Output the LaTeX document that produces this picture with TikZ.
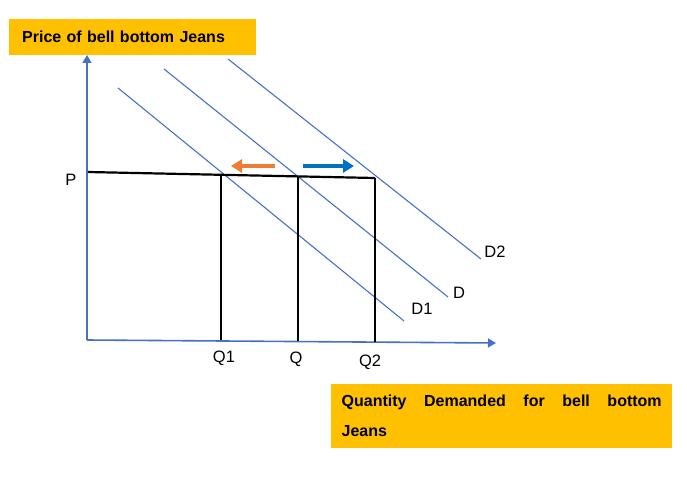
\documentclass[tikz,border=0pt]{standalone}
\usepackage{fontspec}
\setmainfont{Liberation Sans}
\usepackage{xcolor}
\usetikzlibrary{
  arrows.meta,
  positioning
}
\definecolor{boxFill}{HTML}{FFC000}
\definecolor{axisStroke}{HTML}{4472C4}
\definecolor{leftShift}{HTML}{ED7D31}
\definecolor{rightShift}{HTML}{0070C0}
\tikzset{
  label box/.style={
    rectangle, fill=boxFill,
    inner ysep=0pt, align=left,
    font=\bfseries\fontsize{16}{30}\selectfont
  },
  axis line/.style={
    axisStroke, line width=1.6pt,
    -{Triangle[length=8pt, width=9pt]}},
  demand line/.style={axisStroke, line width=1.1pt},
  guide line/.style={black, line width=2.2pt},
  shift arrow/.style={
    line width=4.5pt,
    -{Triangle[length=11pt, width=13pt]}},
  axis label/.style={inner sep=0pt,
    font=\fontsize{16.5}{16.5}\selectfont},
}

\begin{document}
\begin{tikzpicture}[x=1pt, y=-1pt]
    \useasboundingbox (0,0) rectangle (687,489);

    % Boxes
    \node[label box, anchor=north west, inner xsep=13pt,
      text width=221pt, minimum height=36pt] (pricebox) at (9,19)
      {Price of bell bottom Jeans};
    \node[label box, anchor=north west, inner xsep=10.5pt, inner ysep=9pt,
      text width=320pt, minimum height=64pt, align=justify] (qtybox) at (331,384)
      {Quantity Demanded for bell bottom\linebreak Jeans};

    % Axes
    \coordinate (origin) at (87,340);
    \coordinate (ytop) at (87,55);
    \coordinate (xend) at (496,343);
    \draw[axis line] (origin) -- (ytop);
    \draw[axis line] (origin) -- (xend);

    % Demand curves
    \coordinate (d1start) at (118,88);
    \coordinate (d1end) at (404,321);
    \coordinate (dstart) at (164,69);
    \coordinate (dend) at (448,297);
    \coordinate (d2start) at (228,59);
    \coordinate (d2end) at (481,259);
    \draw[demand line] (d1start) -- (d1end);
    \draw[demand line] (dstart) -- (dend);
    \draw[demand line] (d2start) -- (d2end);
    \node[axis label] (d1) at (422,309) {D1};
    \node[axis label] (d) at (459,293) {D};
    \node[axis label] (d2) at (495,252) {D2};

    % Price level and quantities
    \coordinate (pstart) at (88,172);
    \coordinate (q1top) at (221,174.8);
    \coordinate (qtop) at (298,176.4);
    \coordinate (q2top) at (375,178);
    \coordinate (q1foot) at (221,340);
    \coordinate (qfoot) at (298,341);
    \coordinate (q2foot) at (375,342);
    \draw[guide line] (pstart) -- (q1top) -- (qtop) -- (q2top);
    \draw[guide line] (q1top) -- (q1foot);
    \draw[guide line] (qtop) -- (qfoot);
    \draw[guide line] (q2top) -- (q2foot);
    \node[axis label] (p) at (71,180) {P};
    \node[axis label, below=11pt of q1foot, xshift=3pt] (q1) {Q1};
    \node[axis label, below=11pt of qfoot, xshift=-2pt] (q) {Q};
    \node[axis label, below=13pt of q2foot, xshift=-5pt] (q2) {Q2};

    % Shift arrows
    \coordinate (leftfrom) at (275,166);
    \coordinate (leftto) at (231,166);
    \coordinate (rightfrom) at (303,166);
    \coordinate (rightto) at (354,166);
    \draw[shift arrow, leftShift] (leftfrom) -- (leftto);
    \draw[shift arrow, rightShift] (rightfrom) -- (rightto);
\end{tikzpicture}
\end{document}
